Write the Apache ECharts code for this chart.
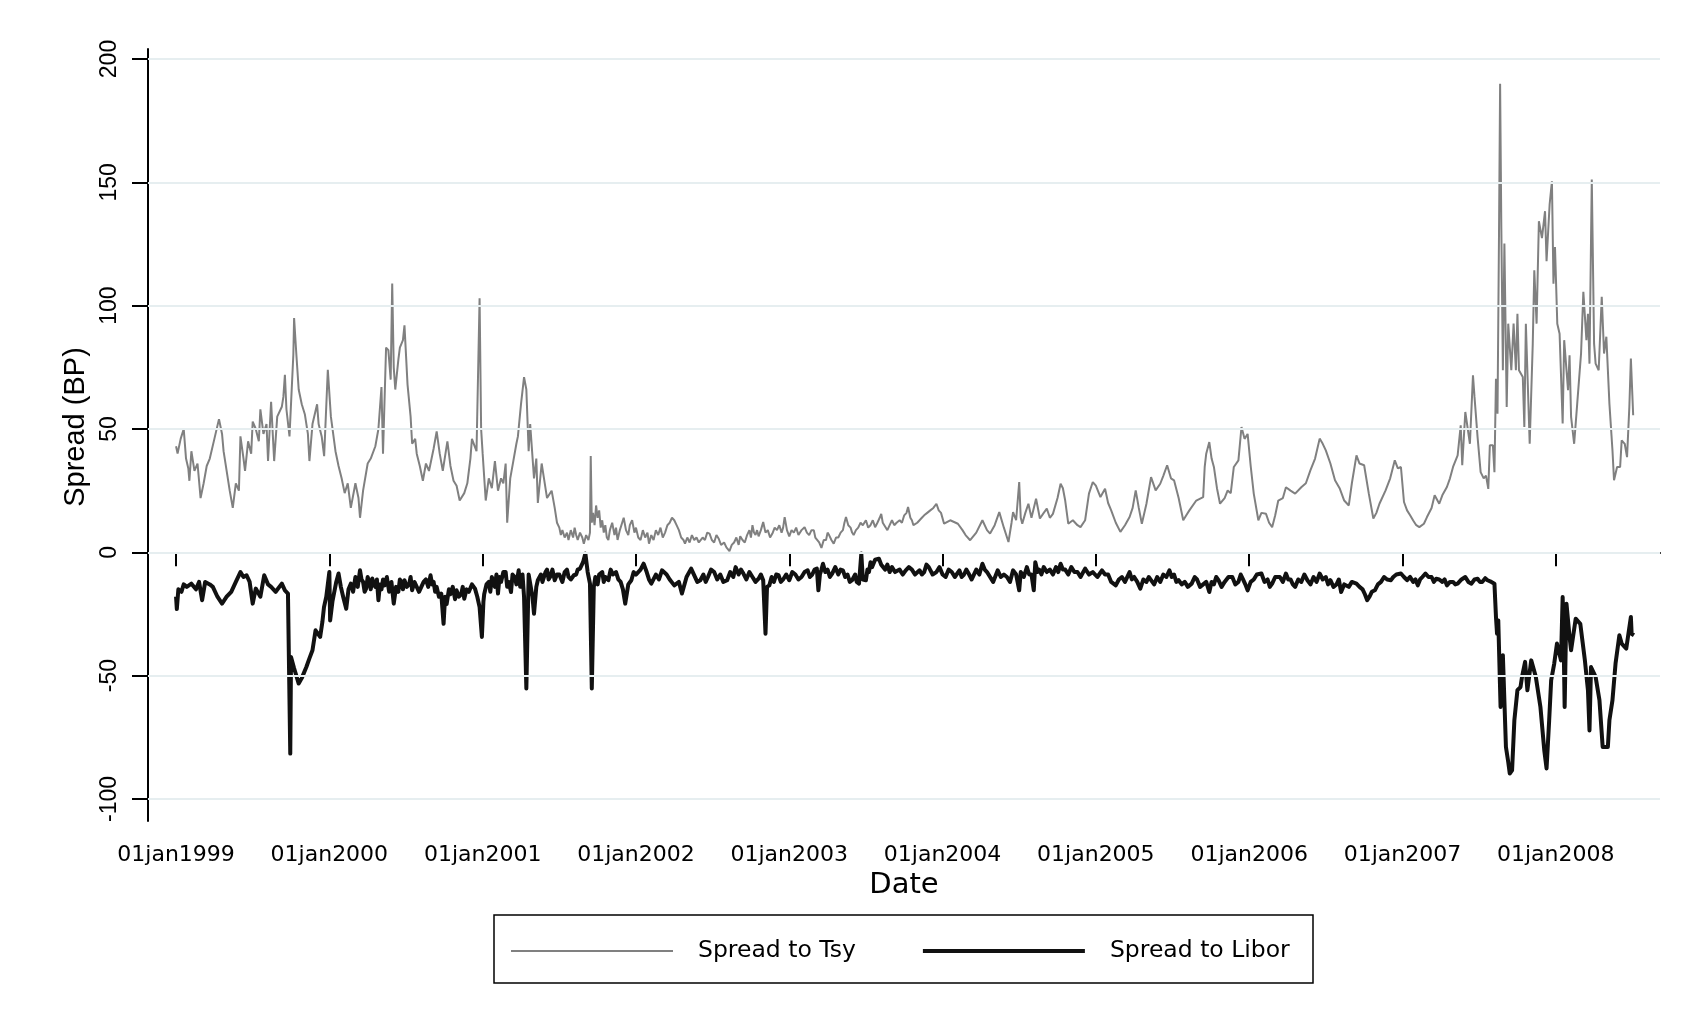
<!DOCTYPE html>
<html><head><meta charset="utf-8">
<script src="https://cdn.jsdelivr.net/npm/echarts@6/dist/echarts.min.js"></script>
<style>html,body{margin:0;padding:0;background:#fff;} #chart{width:1698px;height:1029px;}</style>
</head><body><div id="chart"></div>
<script>
// x tick labels (01jan<year>) and y tick values
const yearTicks = [1999, 2000, 2001, 2002, 2003, 2004, 2005, 2006, 2007, 2008];
const yTicks = [-100, -50, 0, 50, 100, 150, 200];
const seriesNames = ['Spread to Tsy', 'Spread to Libor'];

// Spread to Tsy: [decimal year, bp]
const tsyPoints = [
[1999.00,43],[1999.01,40],[1999.03,46],[1999.05,50],[1999.065,38],[1999.08,34],[1999.087,29],[1999.10,41],[1999.12,33],[1999.14,36],[1999.16,22],[1999.18,28],[1999.20,35],[1999.22,38],[1999.25,46],[1999.28,54],[1999.30,48],[1999.31,41],[1999.33,33],[1999.35,25],[1999.37,18],[1999.39,28],[1999.41,25],[1999.42,47],[1999.44,38],[1999.45,33],[1999.47,45],[1999.49,40],[1999.50,53],[1999.52,50],[1999.54,45],[1999.55,58],[1999.57,48],[1999.59,52],[1999.60,37],[1999.62,61],[1999.64,37],[1999.66,55],[1999.69,59],[1999.70,63],[1999.71,72],[1999.72,58],[1999.74,47],[1999.765,80],[1999.77,95],[1999.785,80],[1999.80,66],[1999.82,60],[1999.84,56],[1999.86,48],[1999.87,37],[1999.89,52],[1999.92,60],[1999.93,52],[1999.95,47],[1999.966,39],[1999.99,74],
[2000.01,55],[2000.04,41],[2000.06,35],[2000.08,30],[2000.10,24],[2000.12,28],[2000.14,18],[2000.17,28],[2000.19,22],[2000.20,14],[2000.22,25],[2000.25,36],[2000.27,38],[2000.30,43],[2000.32,50],[2000.34,67],[2000.35,40],[2000.37,83],[2000.385,82],[2000.40,70],[2000.41,109],[2000.42,75],[2000.43,66],[2000.45,78],[2000.46,83],[2000.48,86],[2000.49,92],[2000.51,68],[2000.53,55],[2000.54,44],[2000.56,46],[2000.57,40],[2000.59,35],[2000.61,29],[2000.63,36],[2000.65,33],[2000.68,42],[2000.70,49],[2000.72,40],[2000.74,33],[2000.76,41],[2000.77,45],[2000.79,35],[2000.81,29],[2000.83,27],[2000.85,21],[2000.88,24],[2000.90,28],[2000.92,38],[2000.93,46],[2000.96,41],[2000.98,103],[2000.99,50],
[2001.00,40],[2001.02,21],[2001.04,30],[2001.06,26],[2001.08,37],[2001.10,25],[2001.12,30],[2001.135,28],[2001.15,36],[2001.16,12],[2001.18,30],[2001.20,37],[2001.22,44],[2001.23,47],[2001.25,60],[2001.27,71],[2001.285,66],[2001.30,41],[2001.31,52],[2001.335,30],[2001.35,38],[2001.36,20],[2001.385,36],[2001.40,30],[2001.42,22],[2001.45,25],[2001.47,18],[2001.485,12],
[2001.50,10],[2001.51,7],[2001.52,9],[2001.535,6],[2001.55,8],[2001.56,5],[2001.575,9],[2001.59,6],[2001.60,10],[2001.61,7],[2001.62,5],[2001.635,8],[2001.65,6],[2001.66,3.5],[2001.675,7],[2001.69,5],[2001.70,8],[2001.705,39],[2001.712,12],[2001.72,16],[2001.73,11],[2001.74,19],[2001.75,14],[2001.76,17],[2001.77,10],[2001.78,13],[2001.79,8],[2001.80,11],[2001.81,6],[2001.82,5],[2001.83,9],[2001.845,12],[2001.86,7],[2001.87,10],[2001.88,5],[2001.895,9],[2001.91,12],[2001.92,14],[2001.935,9],[2001.95,7],[2001.96,11],[2001.975,13],[2001.99,8],
[2002.00,10],[2002.015,6],[2002.03,5],[2002.045,9],[2002.06,6],[2002.075,8],[2002.085,3.5],[2002.10,7],[2002.115,5],[2002.13,9],[2002.145,7],[2002.16,10],[2002.175,6],[2002.19,8],[2002.205,11],[2002.22,12],[2002.235,14],[2002.25,13],[2002.265,11],[2002.28,9],[2002.295,6],[2002.31,5],[2002.32,3.5],[2002.335,6],[2002.35,4],[2002.365,7],[2002.38,5],[2002.395,6],[2002.41,4],
[2002.42,3.5],[2002.435,6],[2002.45,5],[2002.465,8],[2002.48,7.6],[2002.495,5],[2002.51,4],[2002.525,7],[2002.54,5.5],[2002.555,3],[2002.575,4],[2002.59,2],[2002.61,0.5],[2002.625,3],[2002.64,4],[2002.655,6],[2002.67,3],[2002.68,6.5],[2002.695,5],[2002.71,4],[2002.725,7],[2002.74,9],[2002.75,6],[2002.76,11],[2002.77,8],[2002.78,7],[2002.79,9],[2002.80,6.5],[2002.815,9],[2002.83,12.3],[2002.845,8],[2002.86,9],[2002.875,6],[2002.89,7.6],[2002.905,10],[2002.92,9],[2002.935,11],[2002.95,8],[2002.96,10],[2002.97,14.3],[2002.985,9],
[2003.00,6.5],[2003.015,9],[2003.03,8],[2003.045,10],[2003.06,7],[2003.08,9],[2003.10,10.2],[2003.115,8],[2003.13,7],[2003.145,9],[2003.16,9],[2003.17,6],[2003.18,6.5],[2003.195,4],[2003.21,1.8],[2003.225,5],[2003.24,5],[2003.25,8],[2003.26,7],[2003.275,5],[2003.29,3.5],[2003.305,6],[2003.32,6],[2003.335,8],[2003.35,9],[2003.36,12],[2003.37,14.3],[2003.385,11],[2003.40,10],[2003.41,8],[2003.42,7],[2003.435,9],[2003.45,10],[2003.465,12],[2003.48,11],[2003.50,13],[2003.515,10],[2003.53,11],[2003.545,13],[2003.56,10.2],[2003.575,12],[2003.59,14],[2003.60,15.6],[2003.61,12],[2003.62,12],[2003.63,10],[2003.64,9],[2003.655,11],[2003.67,13],[2003.685,11],[2003.70,12],[2003.72,13],[2003.735,12],[2003.75,15],[2003.765,16],[2003.775,18.4],[2003.79,14],[2003.80,13],[2003.81,11],[2003.82,10.2],[2003.835,12],[2003.85,13],[2003.865,14],[2003.88,15],[2003.90,16],[2003.92,17],[2003.94,18],[2003.96,19.7],[2003.975,17],[2003.99,16],
[2004.01,11.6],[2004.05,13],[2004.10,11.6],[2004.13,9],[2004.15,7],[2004.18,4.9],[2004.22,8],[2004.26,13],[2004.29,9],[2004.31,7.6],[2004.34,11],[2004.37,16.3],[2004.40,10],[2004.43,4.2],[2004.45,12],[2004.46,16.3],[2004.48,13],[2004.50,28.5],[2004.51,14],[2004.52,11.6],[2004.54,16],[2004.56,19.7],[2004.58,14],[2004.61,21.7],[2004.635,13.7],[2004.66,16],[2004.68,17.7],[2004.70,14],[2004.72,15.6],[2004.75,22],[2004.77,27.8],[2004.785,26],[2004.80,21],[2004.82,11.6],[2004.85,13],[2004.88,11],[2004.90,10.2],[2004.93,13],[2004.955,23.8],[2004.98,28.5],
[2005.00,27],[2005.03,22.4],[2005.06,25.8],[2005.08,20],[2005.10,17],[2005.13,12],[2005.16,8.3],[2005.19,11],[2005.22,14.3],[2005.24,18],[2005.26,25.1],[2005.28,18],[2005.30,11.6],[2005.33,19.7],[2005.36,30.5],[2005.39,25.1],[2005.42,27.8],[2005.44,31],[2005.465,35.3],[2005.49,30],[2005.51,29.2],[2005.54,22],[2005.57,13],[2005.59,15],[2005.61,17],[2005.655,21],[2005.70,22.4],[2005.71,34.6],[2005.72,40],[2005.74,44.7],[2005.755,38],[2005.77,34.6],[2005.79,26],[2005.81,19.7],[2005.84,22],[2005.86,25.1],[2005.88,24],[2005.90,34.6],[2005.93,37.3],[2005.95,50.8],[2005.97,46],[2005.99,48],
[2006.01,35],[2006.03,23.8],[2006.06,13],[2006.08,16],[2006.11,15.6],[2006.13,12],[2006.15,10.2],[2006.17,15],[2006.19,21],[2006.22,22],[2006.24,26.4],[2006.27,25],[2006.30,23.8],[2006.34,26.4],[2006.37,28],[2006.40,33.3],[2006.43,38],[2006.46,46.1],[2006.48,44],[2006.50,41.3],[2006.53,36],[2006.56,29.2],[2006.59,26],[2006.62,21],[2006.65,19],[2006.67,28],[2006.70,39.3],[2006.72,36],[2006.75,35.3],[2006.78,24],[2006.81,13.7],[2006.83,16],[2006.85,19.7],[2006.89,25.1],[2006.92,30],[2006.95,37.3],[2006.97,34],[2006.99,34.6],
[2007.01,20.4],[2007.03,17],[2007.05,15],[2007.07,12.9],[2007.09,11],[2007.11,10.2],[2007.14,11.6],[2007.16,14.3],[2007.19,18],[2007.21,23.1],[2007.24,19.7],[2007.26,23.1],[2007.29,26.5],[2007.31,30],[2007.33,34.6],[2007.36,39.3],[2007.38,51.5],[2007.39,35.3],[2007.41,56.9],[2007.44,44],[2007.46,71.8],[2007.47,63],[2007.49,46.7],[2007.51,32.5],[2007.53,30],[2007.545,31.1],[2007.56,25.7],[2007.57,43.4],[2007.59,43.4],[2007.60,32.5],[2007.61,70.4],[2007.62,56.2],[2007.63,130.6],[2007.637,190],[2007.645,131.3],[2007.655,73.8],[2007.665,125.2],[2007.68,58.9],[2007.69,92.7],[2007.71,73.8],[2007.725,92.7],[2007.74,73.8],[2007.75,96.7],[2007.76,73.8],[2007.785,71.1],[2007.795,50.8],[2007.805,92.7],[2007.83,44],[2007.85,84.6],[2007.86,114.3],[2007.875,92.7],[2007.89,134.2],[2007.91,127.4],[2007.93,138.3],[2007.94,118],[2007.96,141],[2007.975,150.4],[2007.985,108.9],[2007.995,123.8],
[2008.01,92.7],[2008.025,88.6],[2008.045,52.2],[2008.055,86],[2008.08,65.7],[2008.09,79.9],[2008.10,54.9],[2008.12,44],[2008.14,60.3],[2008.165,80.6],[2008.18,105.6],[2008.20,86],[2008.21,96.7],[2008.22,76.5],[2008.235,151.1],[2008.25,84.6],[2008.26,76.5],[2008.28,73.8],[2008.30,103.6],[2008.315,80.6],[2008.33,87.4],[2008.35,60.3],[2008.37,41.3],[2008.38,29.2],[2008.40,34.6],[2008.42,34.6],[2008.43,45.4],[2008.45,44],[2008.465,38.6],[2008.48,58.9],[2008.49,78.6],[2008.505,55.6]
];

// Spread to Libor: [decimal year, bp]
const liborPoints = [
[1999.00,-18],[1999.005,-23],[1999.015,-15],[1999.035,-16],[1999.05,-13],[1999.07,-14],[1999.10,-12.7],[1999.13,-15],[1999.15,-12],[1999.17,-19.4],[1999.19,-12],[1999.22,-13],[1999.24,-14],[1999.27,-18],[1999.30,-20.8],[1999.33,-18],[1999.36,-16],[1999.39,-12],[1999.42,-8],[1999.44,-10],[1999.46,-9.3],[1999.48,-12],[1999.50,-20.8],[1999.52,-14.7],[1999.55,-18],[1999.575,-9.3],[1999.60,-13],[1999.62,-14],[1999.65,-16],[1999.69,-12.7],[1999.71,-15.4],[1999.73,-16.7],[1999.745,-81.6],[1999.75,-42.4],[1999.77,-47],[1999.80,-53.2],[1999.82,-51],[1999.85,-46.5],[1999.87,-43],[1999.89,-39.7],[1999.91,-31.6],[1999.94,-34.3],[1999.955,-28],[1999.965,-22.2],[1999.98,-18],
[2000.00,-8],[2000.005,-27.6],[2000.02,-20],[2000.03,-16.7],[2000.045,-12],[2000.06,-8.6],[2000.075,-14],[2000.09,-18],[2000.11,-22.9],[2000.125,-15],[2000.14,-12.7],[2000.155,-16],[2000.17,-10],[2000.185,-14],[2000.20,-7.3],[2000.21,-11],[2000.22,-12],[2000.23,-16],[2000.24,-14.7],[2000.25,-10],[2000.26,-12],[2000.27,-15],[2000.28,-10.6],[2000.29,-13],[2000.30,-14],[2000.31,-11],[2000.32,-19.4],[2000.33,-13],[2000.34,-15],[2000.35,-11],[2000.36,-13.4],[2000.375,-10],[2000.39,-16],[2000.405,-12],[2000.42,-20.8],[2000.435,-14],[2000.45,-16],[2000.46,-11],[2000.47,-12],[2000.48,-15],[2000.49,-11.3],[2000.505,-14],[2000.52,-13],[2000.53,-10],[2000.54,-15.4],[2000.555,-12],[2000.57,-14],[2000.585,-16],[2000.60,-14],[2000.615,-12],[2000.63,-11],[2000.645,-14],[2000.66,-9.3],[2000.67,-13],[2000.68,-12],[2000.69,-16],[2000.70,-14],[2000.715,-18],[2000.73,-16.7],[2000.745,-29],[2000.755,-18],[2000.765,-21],[2000.78,-15],[2000.79,-17],[2000.805,-14],[2000.82,-19],[2000.83,-15.4],[2000.845,-18],[2000.86,-17],[2000.87,-14],[2000.88,-18.8],[2000.895,-15],[2000.91,-16],[2000.93,-13],[2000.95,-14.7],[2000.965,-18],[2000.98,-22.2],[2000.995,-34.3],
[2001.005,-20],[2001.01,-17],[2001.025,-13],[2001.04,-12],[2001.05,-16],[2001.06,-10],[2001.07,-12],[2001.08,-14],[2001.09,-9],[2001.10,-16.7],[2001.11,-10],[2001.12,-12],[2001.135,-8],[2001.15,-8],[2001.16,-14],[2001.17,-12],[2001.185,-16.1],[2001.195,-9],[2001.21,-10],[2001.22,-13],[2001.235,-7.3],[2001.245,-14],[2001.25,-12],[2001.26,-9],[2001.27,-18],[2001.285,-55.2],[2001.30,-9],[2001.31,-8.6],[2001.325,-18],[2001.335,-24.9],[2001.35,-14],[2001.36,-11.3],[2001.38,-9],[2001.39,-12],[2001.41,-8],[2001.42,-7],[2001.43,-11],[2001.44,-10],[2001.455,-7],[2001.47,-11.3],[2001.485,-9],[2001.50,-9],[2001.52,-12],[2001.535,-8],[2001.55,-7],[2001.56,-10],[2001.575,-11],[2001.595,-9.3],[2001.61,-9],[2001.62,-7],[2001.635,-6.6],[2001.655,-4],[2001.67,-0.5],[2001.685,-8],[2001.70,-12.7],[2001.712,-55.2],[2001.725,-14],[2001.735,-10],[2001.75,-13],[2001.76,-9],[2001.78,-8],[2001.79,-12],[2001.80,-10],[2001.82,-11.3],[2001.835,-7],[2001.85,-9],[2001.87,-8],[2001.885,-11],[2001.90,-12],[2001.915,-15],[2001.93,-20.8],[2001.95,-13],[2001.97,-11.3],[2001.985,-8],
[2002.00,-9],[2002.03,-7],[2002.05,-4.6],[2002.07,-8],[2002.085,-11],[2002.10,-12.7],[2002.13,-9],[2002.15,-11],[2002.17,-7.3],[2002.20,-9],[2002.22,-11],[2002.25,-13.4],[2002.28,-12],[2002.30,-16.7],[2002.33,-10],[2002.36,-6.6],[2002.40,-12],
[2002.42,-11.3],[2002.44,-9],[2002.455,-12],[2002.47,-10],[2002.49,-7],[2002.51,-8],[2002.53,-11],[2002.55,-9],[2002.57,-12],[2002.595,-11.3],[2002.615,-8],[2002.635,-10],[2002.65,-6],[2002.67,-9],[2002.685,-7],[2002.70,-8.5],[2002.72,-11],[2002.74,-8],[2002.76,-10],[2002.78,-12],[2002.80,-10.7],[2002.815,-9],[2002.83,-11.3],[2002.845,-33],[2002.855,-14],[2002.87,-13.4],[2002.885,-10],[2002.90,-12],[2002.915,-9],[2002.93,-9.3],[2002.945,-12],[2002.96,-11],[2002.98,-9],
[2003.00,-11.3],[2003.02,-8],[2003.04,-9],[2003.06,-11],[2003.08,-10],[2003.10,-8],[2003.12,-7.3],[2003.135,-10],[2003.15,-9],[2003.165,-7],[2003.18,-6.6],[2003.19,-15.4],[2003.20,-9],[2003.21,-7],[2003.22,-4.6],[2003.235,-8],[2003.25,-7],[2003.265,-10],[2003.28,-8.6],[2003.30,-6],[2003.32,-9],[2003.335,-7],[2003.35,-7.3],[2003.365,-10],[2003.38,-9],[2003.395,-12],[2003.41,-11.3],[2003.43,-9],[2003.44,-12],[2003.455,-12.7],[2003.47,-0.5],[2003.48,-11],[2003.50,-11.3],[2003.51,-7],[2003.52,-8],[2003.53,-4],[2003.54,-6],[2003.56,-3],[2003.585,-2.6],[2003.60,-5],[2003.61,-4.6],[2003.625,-7],[2003.64,-5],[2003.655,-8],[2003.67,-6],[2003.69,-8],[2003.72,-7],[2003.74,-9],[2003.76,-7.3],[2003.78,-6],[2003.80,-7],[2003.82,-9],[2003.85,-7.3],[2003.865,-9],[2003.88,-8],[2003.895,-5],[2003.91,-6],[2003.935,-9],[2003.96,-8],[2003.98,-6],
[2004.00,-9],[2004.02,-10],[2004.04,-7],[2004.06,-8],[2004.08,-10],[2004.11,-7.3],[2004.125,-10],[2004.14,-9],[2004.155,-7],[2004.17,-8.6],[2004.19,-11],[2004.22,-7],[2004.24,-9],[2004.26,-4.6],[2004.275,-7],[2004.29,-8],[2004.31,-10],[2004.33,-12],[2004.36,-7.3],[2004.38,-10],[2004.40,-9],[2004.42,-10],[2004.44,-12],[2004.46,-7.3],[2004.48,-9],[2004.50,-15.4],[2004.51,-8],[2004.53,-10],[2004.55,-6],[2004.565,-9],[2004.58,-9],[2004.595,-15.4],[2004.605,-4],[2004.62,-8],[2004.63,-7],[2004.645,-9],[2004.66,-6],[2004.68,-8],[2004.70,-7],[2004.72,-9],[2004.74,-6],[2004.755,-8],[2004.77,-4.6],[2004.785,-7],[2004.80,-7],[2004.82,-9],[2004.84,-6],[2004.86,-8],[2004.88,-8],[2004.90,-10],[2004.93,-6.6],[2004.955,-9],[2004.98,-8],
[2005.01,-10],[2005.04,-7.3],[2005.06,-9],[2005.08,-9],[2005.10,-12],[2005.13,-13.4],[2005.15,-11],[2005.17,-10],[2005.19,-12],[2005.22,-8],[2005.235,-11],[2005.25,-10],[2005.27,-12],[2005.29,-14.7],[2005.31,-11],[2005.33,-12],[2005.345,-10],[2005.36,-11.3],[2005.38,-13],[2005.40,-10],[2005.42,-12],[2005.44,-9],[2005.46,-10],[2005.48,-7.3],[2005.495,-10],[2005.51,-9],[2005.525,-12],[2005.54,-11.3],[2005.56,-13],[2005.58,-12],[2005.60,-14],[2005.625,-12.7],[2005.645,-10],[2005.66,-11],[2005.68,-14],[2005.70,-13],[2005.72,-12],[2005.74,-16.1],[2005.755,-12],[2005.77,-13],[2005.785,-10],[2005.80,-11.3],[2005.82,-14],[2005.84,-12],[2005.865,-10],[2005.89,-10],[2005.91,-13],[2005.93,-12],[2005.945,-9],[2005.96,-11],[2005.975,-13],[2005.99,-15.4],
[2006.01,-12],[2006.03,-11],[2006.05,-9],[2006.08,-8.6],[2006.10,-12],[2006.12,-11],[2006.135,-14],[2006.15,-12.7],[2006.17,-10],[2006.20,-10],[2006.22,-12],[2006.24,-8.6],[2006.255,-11],[2006.27,-11],[2006.285,-13],[2006.30,-14],[2006.32,-11],[2006.34,-12],[2006.36,-9],[2006.38,-11.3],[2006.40,-13],[2006.42,-10],[2006.44,-12],[2006.46,-8.6],[2006.48,-11],[2006.50,-10],[2006.515,-13],[2006.53,-11.3],[2006.55,-14],[2006.57,-13],[2006.585,-11],[2006.60,-16.1],[2006.62,-13],[2006.65,-14],[2006.67,-12],[2006.70,-12.7],[2006.72,-14],[2006.74,-15],[2006.755,-17],[2006.77,-19.4],[2006.785,-18],[2006.80,-16],[2006.82,-15.4],[2006.84,-13],[2006.86,-12],[2006.88,-10],[2006.90,-11],[2006.925,-11.3],[2006.94,-10],[2006.96,-9],[2006.99,-8.6],
[2007.01,-10],[2007.03,-11.3],[2007.05,-10],[2007.07,-12],[2007.085,-11],[2007.10,-13.4],[2007.115,-11],[2007.13,-10],[2007.15,-8.6],[2007.17,-10],[2007.19,-10],[2007.205,-12],[2007.22,-10.7],[2007.24,-11],[2007.26,-12],[2007.275,-11],[2007.29,-13.4],[2007.31,-12],[2007.33,-12],[2007.345,-13],[2007.36,-12.7],[2007.385,-11],[2007.41,-10],[2007.43,-12],[2007.45,-12.7],[2007.47,-11],[2007.49,-10.7],[2007.505,-12],[2007.52,-12],[2007.54,-10.5],[2007.555,-11.3],[2007.58,-12],[2007.60,-12.7],
[2007.61,-26.2],[2007.617,-33],[2007.625,-27.6],[2007.64,-62.7],[2007.655,-41.7],[2007.675,-78.9],[2007.69,-85],[2007.70,-89.7],[2007.715,-88.4],[2007.73,-68.1],[2007.75,-55.9],[2007.77,-54.6],[2007.78,-50.5],[2007.80,-44.4],[2007.815,-55.9],[2007.84,-43.8],[2007.87,-50.5],[2007.90,-62.7],[2007.925,-80.2],[2007.94,-87.6],[2007.957,-68.1],[2007.97,-51.9],[2007.99,-45.1],
[2008.008,-37],[2008.034,-43.8],[2008.045,-18.1],[2008.05,-30.2],[2008.058,-62.7],[2008.07,-20.8],[2008.09,-34.3],[2008.10,-39.7],[2008.13,-26.9],[2008.16,-29],[2008.19,-43.8],[2008.21,-55.9],[2008.22,-72.2],[2008.23,-46.5],[2008.26,-50.5],[2008.285,-59.9],[2008.306,-78.9],[2008.34,-78.9],[2008.35,-68.1],[2008.37,-59.9],[2008.39,-45.1],[2008.415,-33.6],[2008.43,-37],[2008.46,-39],[2008.49,-26.2],[2008.495,-33],[2008.51,-33.6]
];

const chart = echarts.init(document.getElementById('chart'), null, {renderer: 'canvas'});
const HFONT = 'DejaVu Sans';
const VFONT = 'Liberation Sans, Arial, sans-serif';

chart.setOption({
  animation: false,
  backgroundColor: '#ffffff',
  grid: {left: 148, right: 38, top: 49, bottom: 208, containLabel: false},
  xAxis: {
    type: 'value',
    min: 1998.817, max: 2008.68,
    name: 'Date', nameLocation: 'middle', nameGap: 39,
    nameTextStyle: {fontFamily: HFONT, fontSize: 29, color: '#000'},
    axisLine: {show: true, lineStyle: {color: '#000', width: 2}},
    axisTick: {show: true, customValues: yearTicks, length: 14, lineStyle: {color: '#000', width: 2}},
    axisLabel: {show: true, customValues: yearTicks, margin: 23, fontFamily: HFONT, fontSize: 22, color: '#000',
      formatter: v => '01jan' + Math.round(v)},
    splitLine: {show: false}
  },
  yAxis: {
    type: 'value',
    min: -108.92, max: 204.05,
    name: 'Spread (BP)', nameLocation: 'middle', nameGap: 56, nameRotate: 90,
    nameTextStyle: {fontFamily: VFONT, fontSize: 29, color: '#000', padding: [0, 0, 0, 16]},
    axisLine: {show: true, lineStyle: {color: '#000', width: 2}},
    axisTick: {show: true, customValues: yTicks, length: 16, lineStyle: {color: '#000', width: 2}},
    axisLabel: {show: true, customValues: yTicks, rotate: 90, margin: 27, fontFamily: VFONT, fontSize: 23, color: '#000'},
    splitLine: {show: false}
  },
  legend: {
    left: 505, top: 934,
    itemWidth: 162, itemHeight: 26, itemGap: 65,
    itemStyle: {opacity: 0},
    data: [
      {name: seriesNames[0], lineStyle: {width: 2, color: '#808080'}},
      {name: seriesNames[1], lineStyle: {width: 4, color: '#111111'}}
    ],
    textStyle: {fontFamily: HFONT, fontSize: 23.5, color: '#000', padding: [0, 0, 0, 20]}
  },
  graphic: [{
    type: 'rect', shape: {x: 494, y: 915, width: 819, height: 68},
    style: {fill: 'none', stroke: '#000', lineWidth: 1.5}, silent: true, z: 0
  }],
  series: [
    {
      name: 'grid', type: 'line', data: [], z: 1, silent: true,
      markLine: {
        silent: true, symbol: ['none', 'none'], label: {show: false},
        lineStyle: {color: '#e6eef0', width: 2, type: 'solid'},
        emphasis: {disabled: true},
        data: yTicks.map(v => ({yAxis: v}))
      }
    },
    {
      name: seriesNames[0], type: 'line', data: tsyPoints, z: 2,
      symbol: 'none', showSymbol: false,
      lineStyle: {color: '#808080', width: 2}, itemStyle: {color: '#808080'}
    },
    {
      name: seriesNames[1], type: 'line', data: liborPoints, z: 3,
      symbol: 'none', showSymbol: false,
      lineStyle: {color: '#111111', width: 4, join: 'round'}, itemStyle: {color: '#111111'}
    }
  ]
});
</script></body></html>
